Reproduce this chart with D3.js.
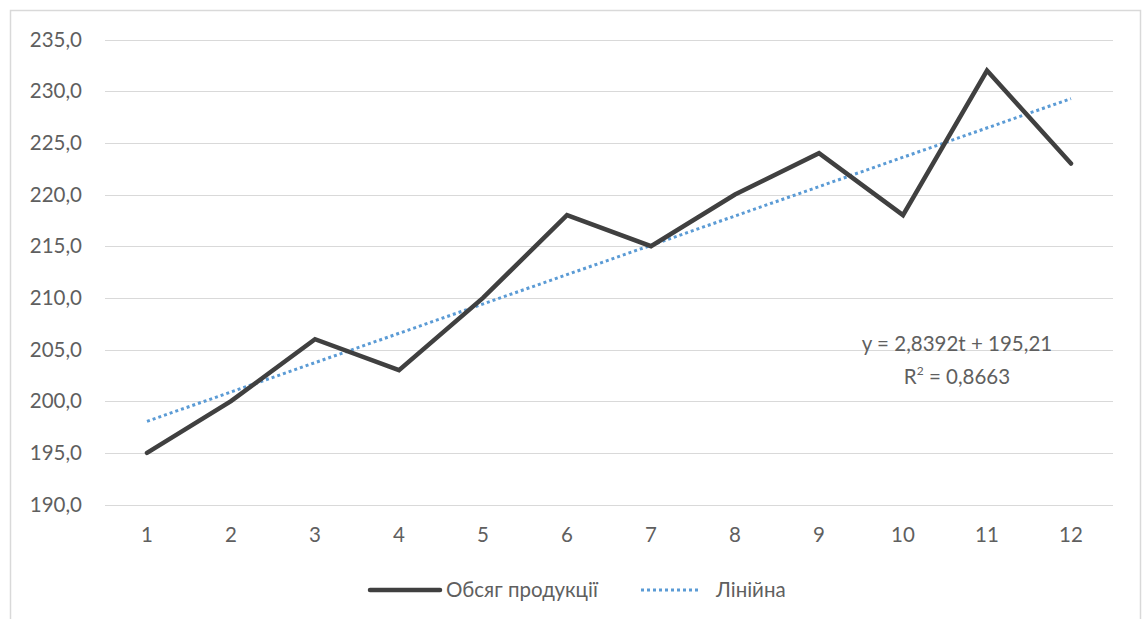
<!DOCTYPE html>
<html>
<head>
<meta charset="utf-8">
<script src="https://cdn.jsdelivr.net/npm/d3@7"></script>
<style>
	html, body { margin: 0; padding: 0; background: white; }
	body { font-family: Lato, 'Open Sans', sans-serif; }
	svg text { fill: #5f5f5f; }
</style>
</head>
<body>
<svg id="chart" width="1145" height="619"></svg>
<script>
// data
var periods = [1, 2, 3, 4, 5, 6, 7, 8, 9, 10, 11, 12];
var volume = [195, 200, 206, 203, 210, 218, 215, 220, 224, 218, 232, 223];
var yTicks = [190, 195, 200, 205, 210, 215, 220, 225, 230, 235];
var trendSlope = 2.8392;
var trendIntercept = 195.21;
var trendLabel = "y = 2,8392t + 195,21";
var r2Label = "0,8663";
var seriesName = "Обсяг продукції";
var trendName = "Лінійна";

var fontSize = 20.5;

var svg = d3.select("#chart");

// outer chart border
svg.append("rect")
	.attr("x", 10.5).attr("y", 10.5)
	.attr("width", 1130).attr("height", 640)
	.attr("fill", "white")
	.attr("stroke", "#d9d9d9")
	.attr("stroke-width", 1.5);

var x = d3.scaleBand()
	.domain(periods)
	.range([105, 1113]);

var y = d3.scaleLinear()
	.domain([190, 235])
	.range([504.5, 39.5]);

var fmt = function(d) { return d3.format(".1f")(d).replace(".", ","); };

// gridlines
svg.append("g")
	.selectAll("line")
	.data(yTicks)
	.join("line")
	.attr("x1", x.range()[0])
	.attr("x2", x.range()[1])
	.attr("y1", function(d) { return Math.round(y(d)) + 0.5; })
	.attr("y2", function(d) { return Math.round(y(d)) + 0.5; })
	.attr("stroke", "#d9d9d9")
	.attr("stroke-width", 1);

// y axis labels
var yAxis = d3.axisLeft(y).tickValues(yTicks).tickFormat(fmt).tickSize(0).tickPadding(23);
svg.append("g")
	.attr("transform", "translate(105,0)")
	.call(yAxis)
	.call(function(g) { g.select(".domain").remove(); })
	.selectAll("text")
	.attr("font-size", fontSize)
	.attr("font-family", "Lato, sans-serif")
	.attr("fill", "#5f5f5f");

// x axis labels
var xAxis = d3.axisBottom(x).tickSize(0).tickPadding(23);
svg.append("g")
	.attr("transform", "translate(0,504.5)")
	.call(xAxis)
	.call(function(g) { g.select(".domain").remove(); })
	.selectAll("text")
	.attr("font-size", fontSize)
	.attr("font-family", "Lato, sans-serif")
	.attr("fill", "#5f5f5f");

var cx = function(t) { return x(t) + x.bandwidth() / 2; };

// trend line
var trendLine = d3.line()
	.x(function(t) { return cx(t); })
	.y(function(t) { return y(trendIntercept + trendSlope * t); });

svg.append("path")
	.datum([periods[0], periods[periods.length - 1]])
	.attr("d", trendLine)
	.attr("fill", "none")
	.attr("stroke", "#5b9bd5")
	.attr("stroke-width", 3)
	.attr("stroke-dasharray", "3,3");

// data line
var line = d3.line()
	.x(function(d, i) { return cx(periods[i]); })
	.y(function(d) { return y(d); });

svg.append("path")
	.datum(volume)
	.attr("d", line)
	.attr("fill", "none")
	.attr("stroke", "#404040")
	.attr("stroke-width", 4.5)
	.attr("stroke-linejoin", "miter")
	.attr("stroke-linecap", "round");

// equation label
svg.append("text")
	.attr("x", 957)
	.attr("y", 351)
	.attr("text-anchor", "middle")
	.attr("font-size", fontSize)
	.text(trendLabel);

var r2 = svg.append("text")
	.attr("x", 957)
	.attr("y", 384)
	.attr("text-anchor", "middle")
	.attr("font-size", fontSize);
r2.append("tspan").text("R");
r2.append("tspan").attr("font-size", 12).attr("dy", -9).text("2");
r2.append("tspan").attr("dy", 9).text(" = " + r2Label);

// legend
var legend = svg.append("g").attr("transform", "translate(0,590)");
legend.append("line")
	.attr("x1", 370).attr("x2", 440)
	.attr("stroke", "#404040").attr("stroke-width", 4.5).attr("stroke-linecap", "round");
legend.append("text")
	.attr("x", 446).attr("y", 7)
	.attr("font-size", fontSize)
	.text(seriesName);
legend.append("line")
	.attr("x1", 641).attr("x2", 699)
	.attr("stroke", "#5b9bd5").attr("stroke-width", 3).attr("stroke-dasharray", "3,3");
legend.append("text")
	.attr("x", 716).attr("y", 7)
	.attr("font-size", fontSize)
	.text(trendName);
</script>
</body>
</html>
